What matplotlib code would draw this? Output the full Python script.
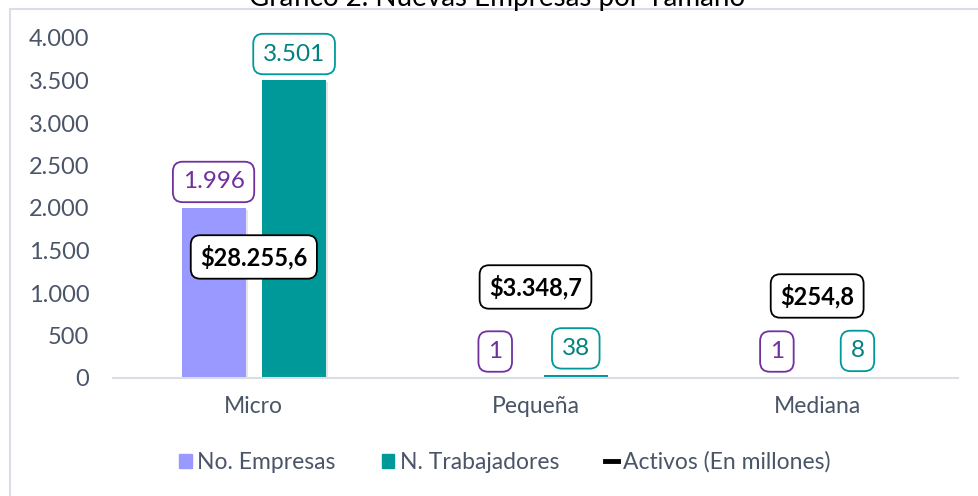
import matplotlib.pyplot as plt
import matplotlib.patheffects as pe
from matplotlib.patches import Patch, Rectangle
from matplotlib.lines import Line2D
import numpy as np

plt.rcParams['font.family'] = ['Lato', 'DejaVu Sans']

# Data
categorias = ["Micro", "Pequeña", "Mediana"]
empresas = [1996, 1, 1]
trabajadores = [3501, 38, 8]
activos = [28255.6, 3348.7, 254.8]

# heights (primary axis units) where the activos labels sit
activos_label_y = [1424, 1071, 965]

col_emp = '#9999FF'
col_trab = '#009999'
col_emp_lbl = '#7030A0'
col_trab_lbl = '#00827F'
tick_col = '#4A5568'


def miles(v, dec=0):
    s = f"{v:,.{dec}f}"
    return s.replace(',', 'X').replace('.', ',').replace('X', '.')


fig = plt.figure(figsize=(9.79, 4.96), dpi=100)
ax = fig.add_axes([113 / 979, 1 - 378 / 496, (958 - 113) / 979, (378 - 38) / 496])

x = np.arange(len(categorias))
w = 0.227
off = 0.143
b1 = ax.bar(x - off, empresas, w, color=col_emp, label='No. Empresas')
b2 = ax.bar(x + off, trabajadores, w, color=col_trab, label='N. Trabajadores')
for b in list(b1) + list(b2):
    b.set_path_effects([pe.withSimplePatchShadow(offset=(1.5, -1.5), alpha=0.12)])

ax.set_xlim(-0.5, 2.5)
ax.set_ylim(0, 4000)
ax.set_yticks(range(0, 4001, 500))
ax.set_yticklabels([miles(v) for v in range(0, 4001, 500)])
ax.set_xticks(x)
ax.set_xticklabels(categorias)
ax.tick_params(axis='y', length=0, pad=17, labelsize=17, labelcolor=tick_col)
ax.tick_params(axis='x', length=0, pad=13, labelsize=16.5, labelcolor=tick_col)
for s in ['top', 'right', 'left']:
    ax.spines[s].set_visible(False)
ax.spines['bottom'].set_color('#D9DEE6')
ax.spines['bottom'].set_linewidth(1.5)

# data labels
box = 'round,pad=0.4,rounding_size=0.4'
for xi, v in zip(x - off, empresas):
    ax.annotate(miles(v), (xi, v), xytext=(0, 19), textcoords='offset points',
                ha='center', va='center', fontsize=17.5, color=col_emp_lbl,
                bbox=dict(boxstyle=box, fc='white', ec=col_emp_lbl, lw=1.3))
for xi, v in zip(x + off, trabajadores):
    ax.annotate(miles(v), (xi, v), xytext=(0, 19), textcoords='offset points',
                ha='center', va='center', fontsize=17.5, color=col_trab_lbl,
                bbox=dict(boxstyle=box, fc='white', ec=col_trab, lw=1.3))
for xi, yl, v in zip(x, activos_label_y, activos):
    ax.text(xi, yl, "$" + miles(v, 1), ha='center', va='center', fontsize=17,
            color='black', fontweight='bold',
            bbox=dict(boxstyle=box, fc='white', ec='black', lw=1.3))

handles = [Patch(color=col_emp), Patch(color=col_trab),
           Line2D([0], [0], color='black', lw=3.5)]
labels = ['No. Empresas', 'N. Trabajadores', 'Activos (En millones)']
fig.legend(handles, labels, loc='center', bbox_to_anchor=(505 / 979, 1 - 462 / 496),
           ncol=3, frameon=False, fontsize=16.5, labelcolor=tick_col,
           handlelength=0.55, handleheight=0.55, handletextpad=0.25, columnspacing=2.0)

# title (cut at top of picture)
fig.text(497 / 979, 1 - 6 / 496, 'Gráfico 2. Nuevas Empresas por Tamaño',
         ha='center', va='baseline', fontsize=20, color='black')

# chart border
fig.add_artist(Rectangle((10 / 979, -0.1), 1.2, 1 - 9 / 496 + 0.1,
                         transform=fig.transFigure, fill=False,
                         ec='#D9DEE6', lw=1.5))

fig.savefig('out.png', dpi=100)
